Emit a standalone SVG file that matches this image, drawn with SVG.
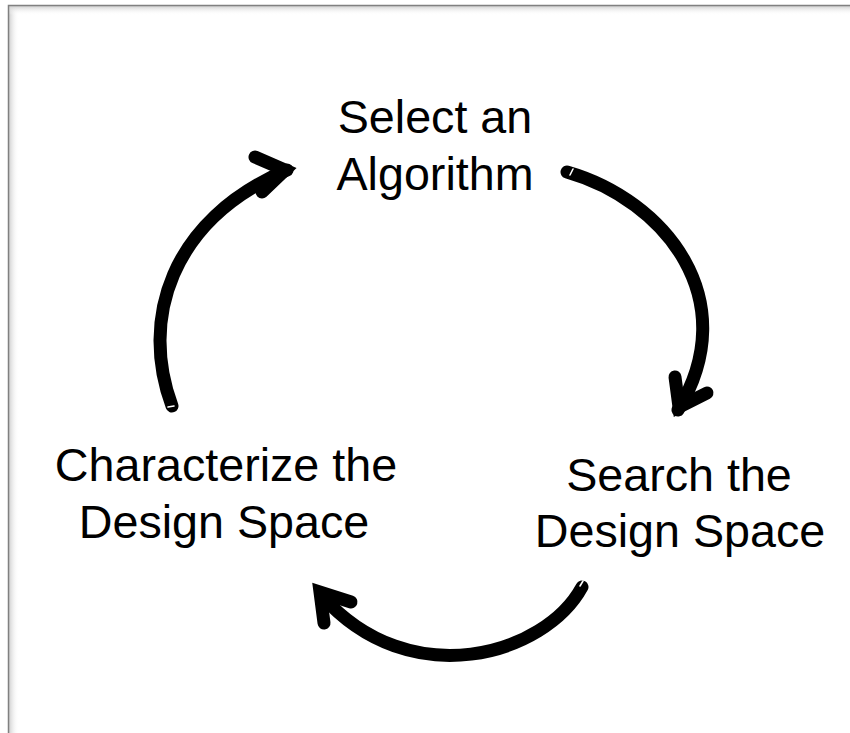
<svg xmlns="http://www.w3.org/2000/svg" width="850" height="733" viewBox="0 0 850 733">
  <defs>
    <linearGradient id="shL" x1="0" y1="0" x2="1" y2="0">
      <stop offset="0" stop-color="#d0d0d0"/>
      <stop offset="1" stop-color="#ffffff" stop-opacity="0"/>
    </linearGradient>
    <linearGradient id="shT" x1="0" y1="0" x2="0" y2="1">
      <stop offset="0" stop-color="#d0d0d0"/>
      <stop offset="1" stop-color="#ffffff" stop-opacity="0"/>
    </linearGradient>
  </defs>
  <style>
    .lbl { font-family: "Liberation Sans", Arial, sans-serif; font-size: 46.67px; fill: #000; text-anchor: middle; }
    .shaft { fill: none; stroke: #000; stroke-width: 13; stroke-linecap: round; }
    .head { fill: none; stroke: #000; stroke-width: 13; stroke-linecap: round; stroke-linejoin: miter; stroke-miterlimit: 10; }
    .gleam { fill: none; stroke: #fff; stroke-width: 1.6; stroke-linecap: round; }
  </style>
  <rect x="0" y="0" width="850" height="733" fill="#fff"/>
  <g id="frame">
    <rect x="9" y="6" width="10" height="727" fill="url(#shL)"/>
    <rect x="9" y="6" width="841" height="9" fill="url(#shT)"/>
    <rect x="8.5" y="5.5" width="900" height="800" fill="none" stroke="#808080" stroke-width="1.5"/>
  </g>
  <g id="connectors">
    <g id="arrow-select-search">
      <path class="shaft" d="M567,172 C665,200 745,300 678,410"/>
      <polyline class="head" points="675,377 679,407 707,393"/>
      <path class="gleam" d="M570,175 L573,169"/>
    </g>
    <g id="arrow-search-characterize">
      <path class="shaft" d="M582,587 C545,655 410,695 322,596"/>
      <polyline class="head" points="324,623 320,592 351,602"/>
      <path class="gleam" d="M580,586 L583,581"/>
    </g>
    <g id="arrow-characterize-select">
      <path class="shaft" d="M172,406 C140,320 170,220 287,170"/>
      <polyline class="head" points="255,157 285,170 262,192"/>
      <path class="gleam" d="M168,407 L174,406"/>
    </g>
  </g>
  <g id="node-select">
    <text class="lbl" x="435" y="133">Select an</text>
    <text class="lbl" x="435" y="190">Algorithm</text>
  </g>
  <g id="node-search">
    <text class="lbl" x="679" y="491">Search the</text>
    <text class="lbl" x="680" y="547">Design Space</text>
  </g>
  <g id="node-characterize">
    <text class="lbl" x="226" y="481">Characterize the</text>
    <text class="lbl" x="224" y="538">Design Space</text>
  </g>
</svg>
